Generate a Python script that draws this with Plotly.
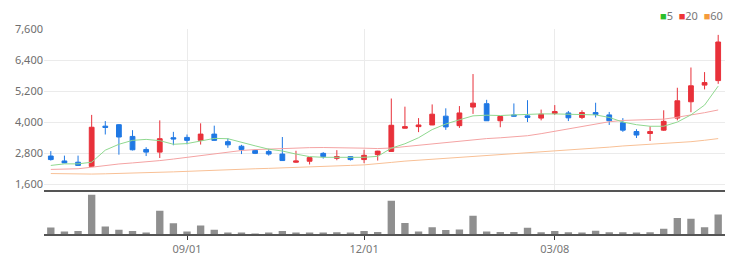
import plotly.graph_objects as go

# ---- data (weekly candles) ----
idx = list(range(50))
tick_pos = [10, 23, 37]
tick_labels = ["09/01", "12/01", "03/08"]

open_ = [2696, 2507, 2458, 2296, 3850, 3906, 3453, 2950, 2848, 3403,
         3415, 3301, 3543, 3252, 3075, 2912, 2874, 2772, 2458, 2496,
         2799, 2609, 2674, 2560, 2749, 2874, 3770, 3831, 3895, 4235,
         3869, 4587, 4716, 4058, 4284, 4247, 4160, 4337, 4360, 4186,
         4375, 4284, 3982, 3642, 3566, 3695, 4160, 4791, 5434, 5608]
high = [2886, 2712, 2712, 4284, 4046, 3930, 3695, 3037, 4073, 3630,
        3528, 3959, 3869, 3377, 3128, 2950, 2976, 3430, 2900, 2650,
        2848, 2923, 2696, 2938, 2900, 4916, 4602, 4160, 4689, 4538,
        4625, 5861, 4867, 4230, 4727, 4852, 4489, 4663, 4436, 4462,
        4753, 4398, 4160, 3732, 3846, 4462, 5332, 6114, 5937, 7373]
low = [2522, 2420, 2318, 2269, 3528, 2749, 2912, 2696, 2621, 3112,
       3150, 3139, 3290, 3014, 2772, 2772, 2712, 2510, 2432, 2371,
       2598, 2534, 2522, 2420, 2522, 2860, 3760, 3619, 3890, 3706,
       3782, 4322, 4050, 3808, 4225, 4008, 4073, 4284, 4046, 4122,
       4186, 3895, 3630, 3392, 3279, 3668, 4073, 4387, 5268, 5483]
close = [2560, 2432, 2334, 3808, 3800, 3430, 2938, 2848, 3366, 3354,
         3301, 3543, 3301, 3128, 2950, 2799, 2772, 2522, 2507, 2636,
         2674, 2674, 2560, 2723, 2886, 3884, 3831, 3895, 4311, 3820,
         4360, 4738, 4058, 4224, 4235, 4186, 4311, 4413, 4171, 4375,
         4300, 4058, 3695, 3506, 3642, 4035, 4829, 5408, 5532, 7098]

ma5 = [2333, 2394, 2394, 2458, 2923, 3150, 3301, 3339, 3290, 3150,
       3177, 3278, 3377, 3366, 3214, 3090, 2961, 2890, 2772, 2674,
       2647, 2647, 2621, 2647, 2685, 2999, 3170, 3403, 3717, 3933,
       4096, 4247, 4273, 4260, 4284, 4311, 4322, 4322, 4311, 4299,
       4284, 4186, 4008, 3906, 3846, 3846, 4008, 4284, 4663, 5396]
ma20 = [2180, 2190, 2205, 2265, 2330, 2390, 2430, 2470, 2520, 2580,
        2645, 2720, 2795, 2860, 2910, 2945, 2970, 2995, 3010, 3020,
        3025, 3025, 3015, 3000, 2985, 3005, 3060, 3110, 3170, 3220,
        3270, 3330, 3370, 3400, 3440, 3480, 3560, 3650, 3750, 3840,
        3930, 4020, 4070, 4085, 4095, 4120, 4195, 4270, 4370, 4475]
ma60 = [2020, 2005, 1995, 2000, 2010, 2020, 2035, 2050, 2065, 2085,
        2105, 2130, 2155, 2175, 2190, 2205, 2220, 2235, 2255, 2275,
        2295, 2315, 2335, 2355, 2390, 2450, 2500, 2535, 2565, 2605,
        2640, 2680, 2715, 2735, 2775, 2810, 2845, 2880, 2915, 2950,
        2990, 3040, 3085, 3115, 3145, 3175, 3210, 3250, 3305, 3370]

volume = [20, 8, 9, 120, 23, 13, 9, 4, 71, 33,
          8, 26, 13, 4, 2, 1, 2, 9, 4, 2,
          2, 5, 3, 9, 6, 102, 34, 8, 21, 12,
          14, 56, 8, 6, 6, 19, 5, 9, 5, 4,
          10, 5, 5, 2, 5, 16, 49, 47, 21, 60]

price_ticks = [1600, 2800, 4000, 5200, 6400, 7600]

RED = "#e8313a"
BLUE = "#1f78e4"
FONT = "Noto Sans"

fig = go.Figure()

fig.add_trace(go.Scatter(x=idx, y=ma60, mode="lines", line=dict(color="#f8c096", width=1),
                         hoverinfo="skip", showlegend=False, xaxis="x", yaxis="y"))
fig.add_trace(go.Scatter(x=idx, y=ma20, mode="lines", line=dict(color="#f4a3a3", width=1),
                         hoverinfo="skip", showlegend=False, xaxis="x", yaxis="y"))
fig.add_trace(go.Scatter(x=idx, y=ma5, mode="lines", line=dict(color="#8fd88f", width=1),
                         hoverinfo="skip", showlegend=False, xaxis="x", yaxis="y"))

fig.add_trace(go.Candlestick(
    x=idx, open=open_, high=high, low=low, close=close,
    increasing=dict(line=dict(color=RED, width=1), fillcolor=RED),
    decreasing=dict(line=dict(color=BLUE, width=1), fillcolor=BLUE),
    whiskerwidth=0, showlegend=False, xaxis="x", yaxis="y"))

fig.add_trace(go.Bar(x=idx, y=volume, marker=dict(color="#8f8f8f", line=dict(width=0)),
                     width=0.54, showlegend=False, xaxis="x2", yaxis="y2"))

split = 0.2165
fig.update_layout(
    width=745, height=268,
    margin=dict(l=44, r=20, t=29, b=30),
    paper_bgcolor="white", plot_bgcolor="white",
    boxgap=0.5,
    font=dict(family=FONT, size=11, color="#777"),
    xaxis=dict(domain=[0, 1], anchor="y", range=[-0.5, 49.5], rangeslider=dict(visible=False),
               tickvals=tick_pos, ticktext=tick_labels, showticklabels=False,
               showgrid=True, gridcolor="#ebebeb", gridwidth=1,
               showline=True, linecolor="#555", linewidth=2, ticks="", zeroline=False),
    yaxis=dict(domain=[split, 1], range=[1400, 7600], tickvals=price_ticks,
               tickformat=",d", showgrid=True, gridcolor="#ebebeb", gridwidth=1,
               zeroline=False, ticks="", tickfont=dict(size=11, color="#6e6e6e")),
    xaxis2=dict(domain=[0, 1], anchor="y2", matches="x", range=[-0.5, 49.5],
                tickvals=tick_pos, ticktext=tick_labels, showgrid=False,
                ticks="outside", ticklen=4, tickcolor="#333", tickwidth=1,
                showline=True, linecolor="#555", linewidth=1.5, zeroline=False,
                tickfont=dict(size=11, color="#777")),
    yaxis2=dict(domain=[0, split], range=[0, 136], showticklabels=False,
                showgrid=False, zeroline=False, ticks=""),
    annotations=[dict(
        xref="paper", yref="paper", x=1.0, y=1.0, xanchor="right", yanchor="bottom", yshift=4,
        showarrow=False, font=dict(family=FONT, size=11, color="#777"),
        text=("<span style='color:#2bbf2b'>■</span>5  "
              "<span style='color:#ee3333'>■</span>20  "
              "<span style='color:#f59a3a'>■</span>60"))],
)

fig.write_html("out.html")
